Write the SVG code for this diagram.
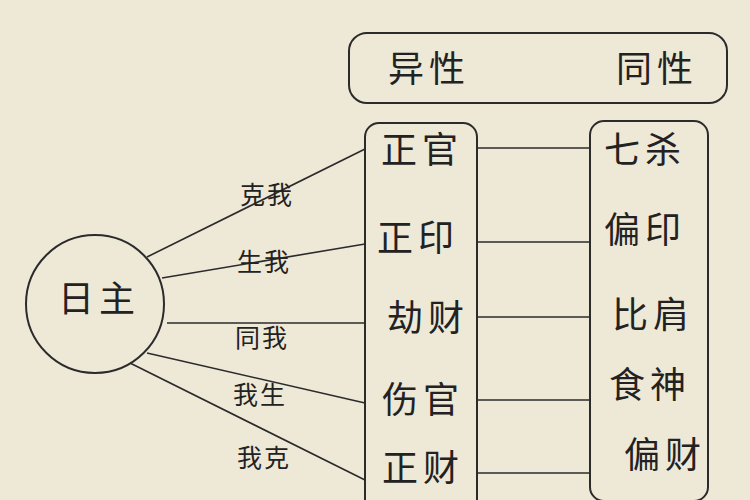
<svg xmlns="http://www.w3.org/2000/svg" width="750" height="500" viewBox="0 0 750 500">
<style>
.box{fill:none;stroke:#2b2b2b;stroke-width:2}
.ln{stroke:#2b2b2b;stroke-width:1.6;fill:none}
.big{font-family:"Noto Sans CJK SC","Noto Sans CJK JP",sans-serif;font-size:36px;fill:#222;letter-spacing:5px}
.sm{font-family:"Noto Sans CJK SC","Noto Sans CJK JP",sans-serif;font-size:25px;fill:#222;letter-spacing:2px}
</style>
<rect width="750" height="500" fill="#eee8d7"/>
<g id="header">
<rect class="box" x="349" y="33" width="378" height="70" rx="18"/>
<text class="big" x="388" y="82">异性</text>
<text class="big" x="616" y="82">同性</text>
</g>
<g id="rizhu">
<circle class="box" cx="95" cy="304" r="69"/>
<text class="big" x="58" y="312">日主</text>
</g>
<g id="yixing">
<rect class="box" x="365" y="123" width="112" height="400" rx="14"/>
<text class="big" x="381" y="163">正官</text>
<text class="big" x="377" y="251">正印</text>
<text class="big" x="387" y="331">劫财</text>
<text class="big" x="382" y="413">伤官</text>
<text class="big" x="382" y="481">正财</text>
</g>
<g id="tongxing">
<rect class="box" x="590" y="121" width="118" height="380" rx="14"/>
<text class="big" x="604" y="163">七杀</text>
<text class="big" x="604" y="243">偏印</text>
<text class="big" x="612" y="328">比肩</text>
<text class="big" x="609" y="398">食神</text>
<text class="big" x="624" y="468">偏财</text>
</g>
<g id="connectors">
<line class="ln" x1="147" y1="257" x2="365" y2="149"/>
<line class="ln" x1="162" y1="278" x2="365" y2="244"/>
<line class="ln" x1="167" y1="323" x2="365" y2="323"/>
<line class="ln" x1="147" y1="353" x2="365" y2="403"/>
<line class="ln" x1="130" y1="363" x2="365" y2="480"/>
<line class="ln" x1="477" y1="148" x2="590" y2="148"/>
<line class="ln" x1="477" y1="242" x2="590" y2="242"/>
<line class="ln" x1="477" y1="317" x2="590" y2="317"/>
<line class="ln" x1="477" y1="400" x2="590" y2="400"/>
<line class="ln" x1="477" y1="473" x2="590" y2="473"/>
</g>
<g id="labels">
<text class="sm" x="240" y="204">克我</text>
<text class="sm" x="237" y="271">生我</text>
<text class="sm" x="235" y="347">同我</text>
<text class="sm" x="233" y="404">我生</text>
<text class="sm" x="237" y="467">我克</text>
</g>
</svg>
